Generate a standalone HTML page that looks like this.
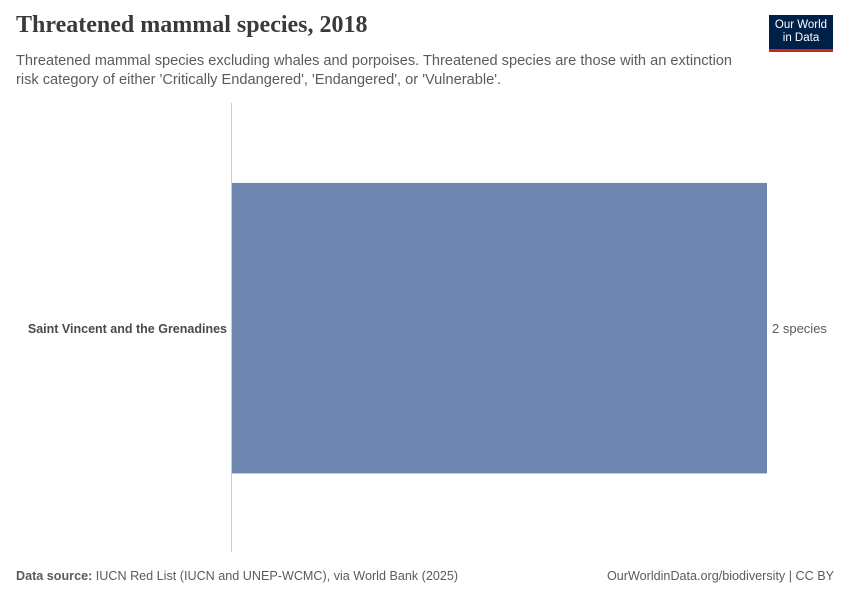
<!DOCTYPE html>
<html><head><meta charset="utf-8"><style>
body{margin:0;width:850px;height:600px;background:#fff;font-family:"Liberation Sans",sans-serif;position:relative;overflow:hidden}
.t{position:absolute;white-space:nowrap}
</style></head><body>
<div class="t" style="left:16px;top:12px;font-family:'Liberation Serif',serif;font-size:24px;font-weight:bold;color:#3a3a3a">Threatened mammal species, 2018</div>
<div class="t" style="left:16px;top:52px;font-size:14.6px;line-height:19px;color:#5b5b5b">Threatened mammal species excluding whales and porpoises. Threatened species are those with an extinction<br>risk category of either 'Critically Endangered', 'Endangered', or 'Vulnerable'.</div>
<div style="position:absolute;left:769px;top:15px;width:64px;background:#002147;border-bottom:3px solid #ce261e;color:#fff;font-size:11.5px;line-height:13px;text-align:center;padding-top:4px;height:30px">Our World<br>in Data</div>
<svg id="chart" width="850" height="600" style="position:absolute;left:0;top:0"></svg>
<div class="t" style="left:16px;top:569px;font-size:12.6px;color:#5b5b5b"><b>Data source:</b> IUCN Red List (IUCN and UNEP-WCMC), via World Bank (2025)</div>
<div class="t" style="right:16px;top:569px;font-size:12.6px;color:#5b5b5b">OurWorldinData.org/biodiversity | CC BY</div>
<script>
const categories=["Saint Vincent and the Grenadines"];
const values=[2];
const units="species";
const svg=document.getElementById('chart');
const NS="http://www.w3.org/2000/svg";
const x0=232,x1=767,maxV=Math.max(...values);
const xs=v=>x0+(v/maxV)*(x1-x0);
const yTop=103,yBot=552,band=(yBot-yTop)/categories.length;
const ax=document.createElementNS(NS,'line');
ax.setAttribute('x1',231.5);ax.setAttribute('x2',231.5);ax.setAttribute('y1',yTop);ax.setAttribute('y2',yBot);ax.setAttribute('stroke','#ccc');


svg.appendChild(ax);
categories.forEach((c,i)=>{
 const y=yTop+i*band+band*0.178,h=band*0.647;
 const r=document.createElementNS(NS,'rect');
 r.setAttribute('x',x0);r.setAttribute('y',y);r.setAttribute('width',xs(values[i])-x0);r.setAttribute('height',h);r.setAttribute('fill','#6d87b0');
 
 
 svg.appendChild(r);
 const cy=y+h/2+5;
 const l=document.createElementNS(NS,'text');
 l.setAttribute('x',227);l.setAttribute('y',cy);l.setAttribute('text-anchor','end');l.setAttribute('font-size','12.5');l.setAttribute('font-weight','bold');l.setAttribute('fill','#4a4a4a');l.textContent=c;
 
 
 svg.appendChild(l);
 const v=document.createElementNS(NS,'text');
 v.setAttribute('x',xs(values[i])+5);v.setAttribute('y',cy);v.setAttribute('font-size','13');v.setAttribute('fill','#5b5b5b');v.textContent=values[i]+' '+units;
 
 
 svg.appendChild(v);
});
</script>
</body></html>
